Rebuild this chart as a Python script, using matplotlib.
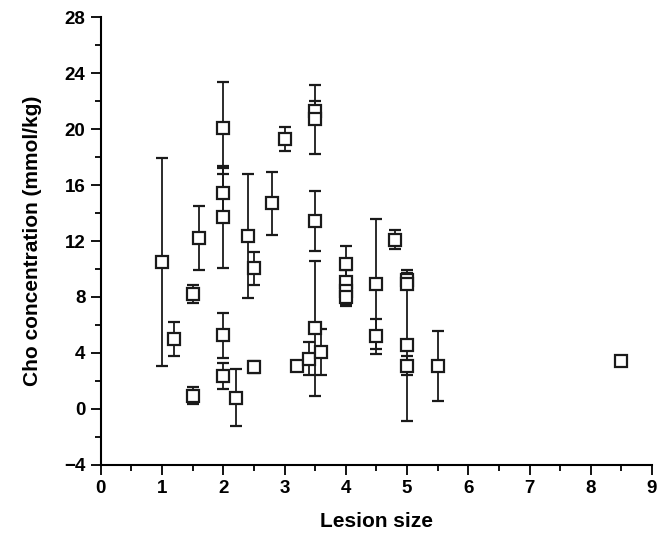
import numpy as np
import matplotlib
matplotlib.use("Agg")
from matplotlib import pyplot as plt
from matplotlib.ticker import MultipleLocator

plt.rcParams['font.family'] = ['Liberation Sans', 'DejaVu Sans']
plt.rcParams['font.weight'] = 'bold'

# lesion size, Cho concentration (mmol/kg), error (+/-)
lesion_size = [1.0, 1.2, 1.5, 1.5, 1.6, 2.0, 2.0, 2.0, 2.0, 2.0, 2.2, 2.4, 2.5, 2.5,
               2.8, 3.0, 3.2, 3.4, 3.5, 3.5, 3.5, 3.5, 3.6, 4.0, 4.0, 4.0, 4.0,
               4.5, 4.5, 4.8, 5.0, 5.0, 5.0, 5.0, 5.5, 8.5]
cho_conc = [10.5, 5.0, 8.2, 0.95, 12.2, 20.1, 15.4, 13.7, 5.27, 2.35, 0.8, 12.35, 10.05, 3.0,
            14.7, 19.3, 3.1, 3.6, 21.3, 20.7, 13.45, 5.75, 4.05, 10.33, 9.1, 8.4, 8.0,
            8.9, 5.2, 12.1, 9.2, 8.9, 4.55, 3.1, 3.05, 3.4]
cho_err = [7.45, 1.2, 0.65, 0.6, 2.3, 3.3, 1.8, 3.65, 1.6, 0.9, 2.05, 4.45, 1.2, 0.4,
           2.27, 0.87, 0.2, 1.2, 0.7, 2.45, 2.15, 4.83, 1.65, 1.3, 0.8, 0.9, 0.65,
           4.65, 1.25, 0.7, 0.5, 0.3, 5.4, 0.7, 2.5, 0.25]

fig = plt.figure(figsize=(6.68, 5.38), dpi=100)
ax = fig.add_axes([0.151, 0.136, 0.825, 0.832])

ax.errorbar(lesion_size, cho_conc, yerr=cho_err, fmt='s', color='#1a1a1a',
            mfc='white', mec='#1a1a1a', ms=9, mew=1.6, elinewidth=1.3,
            capsize=4.5, capthick=1.8)

ax.set_xlim(0, 9)
ax.set_ylim(-4, 28)
ax.xaxis.set_major_locator(MultipleLocator(1))
ax.xaxis.set_minor_locator(MultipleLocator(0.5))
ax.yaxis.set_major_locator(MultipleLocator(4))
ax.yaxis.set_minor_locator(MultipleLocator(2))

for s in ['top', 'right']:
    ax.spines[s].set_visible(False)
for s in ['left', 'bottom']:
    ax.spines[s].set_linewidth(1.5)

ax.tick_params(which='major', length=7, width=1.3, labelsize=13.5, pad=4)
ax.tick_params(which='minor', length=4, width=1.3)

ax.set_xlabel('Lesion size', fontsize=15, fontweight='bold', labelpad=11)
ax.set_ylabel('Cho concentration (mmol/kg)', fontsize=15, fontweight='bold', labelpad=16)

fig.savefig('out.png', dpi=100)
